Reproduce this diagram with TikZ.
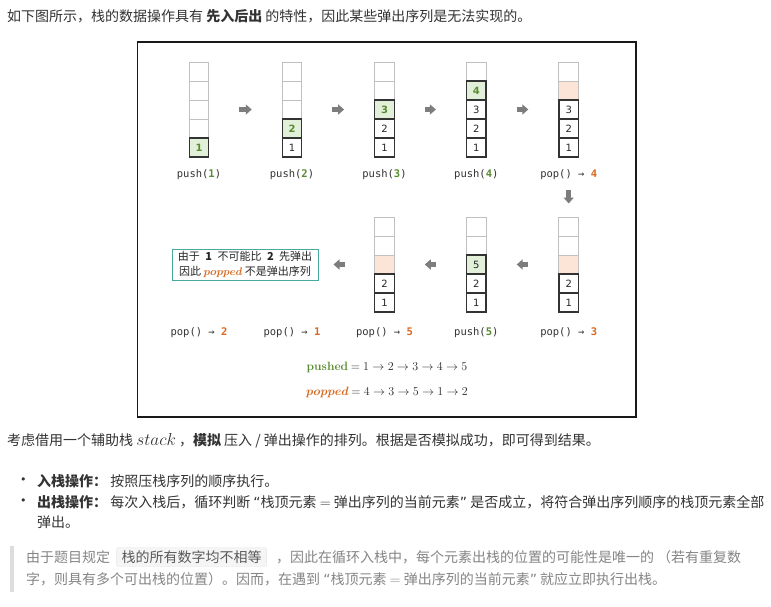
\documentclass[tikz,border=0pt]{standalone}
\usepackage[no-math]{fontspec}
\setmainfont{Noto Sans CJK SC}
\newfontfamily\cellfont{DejaVu Sans}
\newfontfamily\codefont{DejaVu Sans Mono}
\usetikzlibrary{arrows.meta, positioning}

\definecolor{pgreen}{RGB}{88,140,48}
\definecolor{pgreenbg}{RGB}{226,239,217}
\definecolor{porange}{RGB}{216,104,32}
\definecolor{porangebg}{RGB}{252,229,214}
\definecolor{pteal}{RGB}{72,170,158}
\definecolor{cellgray}{RGB}{192,192,192}
\definecolor{arrowgray}{RGB}{125,125,125}
\definecolor{quotebar}{RGB}{221,221,221}

\begin{document}
\begin{tikzpicture}[x=1pt, y=-1pt,
        cell/.style={rectangle, minimum width=19.5pt, minimum height=19pt, inner sep=0pt,
                     font=\cellfont\fontsize{10}{12}\selectfont, text=black!85},
        cempty/.style={cell, draw=cellgray, line width=1pt},
        cpop/.style={cempty, fill=porangebg},
        cnum/.style={cell, draw=black!80, line width=1.3pt},
        cgreen/.style={cnum, fill=pgreenbg},
        cpush/.style={cgreen, text=pgreen, font=\cellfont\bfseries\fontsize{10}{12}\selectfont},
        lbl/.style={font=\codefont\fontsize{10.5}{12}\selectfont, text=black!80, inner sep=1pt},
        garr/.style={-{Triangle[length=6pt,width=10pt]}, line width=4.5pt, arrowgray,
                     shorten <=30pt, shorten >=30pt},
        tbox/.style={rectangle, draw=pteal, line width=1pt, minimum width=146pt, minimum height=31pt,
                     inner sep=2pt, align=center, font=\fontsize{11}{15}\selectfont, text=black!85},
        formula/.style={font=\fontsize{11.5}{14}\selectfont, text=black!85},
        page/.style={anchor=west, inner sep=0pt, font=\fontsize{14}{17}\selectfont, text=black!80},
        note/.style={page, text=black!48},
        codebox/.style={rectangle, fill=black!4, draw=black!10, rounded corners=2pt,
                        inner xsep=5pt, inner ysep=3pt, font=\fontsize{14}{17}\selectfont, text=black!65}]

    \useasboundingbox[fill=white] (0,0) rectangle (771,606);

    % intro line
    \node[page] (intro) at (7,16) {如下图所示，栈的数据操作具有 \textbf{先入后出} 的特性，因此某些弹出序列是无法实现的。};

    % figure frame
    \draw[line width=1.3pt, black!90] (137.5,42) rectangle (636,417);

    % stacks, listed from top cell down
    \foreach \s/\x/\y/\cells in {
        st1/199/71.5/{cempty/{},cempty/{},cempty/{},cempty/{},cpush/1},
        st2/292/71.5/{cempty/{},cempty/{},cempty/{},cpush/2,cnum/1},
        st3/384.5/71.5/{cempty/{},cempty/{},cpush/3,cnum/2,cnum/1},
        st4/476.3/71.5/{cempty/{},cpush/4,cnum/3,cnum/2,cnum/1},
        st5/568.7/71.5/{cempty/{},cpop/{},cnum/3,cnum/2,cnum/1},
        st6/568.7/226.5/{cempty/{},cempty/{},cpop/{},cnum/2,cnum/1},
        st7/476.3/226.5/{cempty/{},cempty/{},cgreen/5,cnum/2,cnum/1},
        st8/384.5/226.5/{cempty/{},cempty/{},cpop/{},cnum/2,cnum/1}}
      \foreach [count=\i] \st/\tx in \cells
        \node[\st] (\s-\i) at (\x,{\y+(\i-1)*19}) {\tx};

    % operation labels
    \node[lbl] (p1) at (199,175) {push({\bfseries\color{pgreen}1})};
    \node[lbl] (p2) at (292,175) {push({\bfseries\color{pgreen}2})};
    \node[lbl] (p3) at (384.5,175) {push({\bfseries\color{pgreen}3})};
    \node[lbl] (p4) at (476.3,175) {push({\bfseries\color{pgreen}4})};
    \node[lbl] (p5) at (568.7,175) {pop() → {\bfseries\color{porange}4}};
    \node[lbl] (p6) at (568.7,333) {pop() → {\bfseries\color{porange}3}};
    \node[lbl] (p7) at (476.3,333) {push({\bfseries\color{pgreen}5})};
    \node[lbl] (p8) at (384.5,333) {pop() → {\bfseries\color{porange}5}};
    \node[lbl] (p9) at (292,333) {pop() → {\bfseries\color{porange}1}};
    \node[lbl] (p10) at (199,333) {pop() → {\bfseries\color{porange}2}};

    % failure note
    \node[tbox] (why) at (245,264.5) {由于\enspace\textbf{1}\enspace 不可能比\enspace\textbf{2}\enspace 先弹出\\因此 {\color{porange}\boldmath$popped$} 不是弹出序列};

    % arrows between states
    \foreach \a/\b in {st1/st2, st2/st3, st3/st4, st4/st5, st6/st7, st7/st8}
      \draw[garr] (\a-3) -- (\b-3);
    \draw[garr, shorten <=9pt, shorten >=13pt] (p5) -- (st6-1);
    \draw[garr, shorten <=29pt, shorten >=15pt] (st8-3) -- (why);

    % sequences
    \node[formula] (pushed) at (387,367.5) {{\color{pgreen}$\mathbf{pushed}$} $= 1 \rightarrow 2 \rightarrow 3 \rightarrow 4 \rightarrow 5$};
    \node[formula] (popped) at (387,392.5) {{\color{porange}\boldmath$popped$} $= 4 \rightarrow 3 \rightarrow 5 \rightarrow 1 \rightarrow 2$};

    % text below the figure
    \node[page] (idea) at (7,441) {考虑借用一个辅助栈 {\fontsize{16}{18}\selectfont$stack$} ，\textbf{模拟} 压入 / 弹出操作的排列。根据是否模拟成功，即可得到结果。};
    \node[page, font=\cellfont\fontsize{11}{12}\selectfont] (dot1) at (20,481) {•};
    \node[page] (push) at (37,481) {\textbf{入栈操作：} 按照压栈序列的顺序执行。};
    \node[page, font=\cellfont\fontsize{11}{12}\selectfont] (dot2) at (20,502) {•};
    \node[page] (pop) at (37,502) {\textbf{出栈操作：} 每次入栈后，循环判断 {\cellfont“}栈顶元素 $=$ 弹出序列的当前元素{\cellfont”} 是否成立，将符合弹出序列顺序的栈顶元素全部};
    \node[page] (pop2) at (37,522) {弹出。};

    % quote block
    \fill[quotebar] (10,546) rectangle (14,592);
    \node[note] (q1) at (26,557) {由于题目规定};
    \node[codebox, right=6pt of q1] (qcode) {栈的所有数字均不相等};
    \node[note, right=9pt of qcode] (q1b) {，因此在循环入栈中，每个元素出栈的位置的可能性是唯一的 （若有重复数};
    \node[note] (q2) at (26,579) {字，则具有多个可出栈的位置）。因而，在遇到 {\cellfont“}栈顶元素 $=$ 弹出序列的当前元素{\cellfont”} 就应立即执行出栈。};
\end{tikzpicture}
\end{document}
